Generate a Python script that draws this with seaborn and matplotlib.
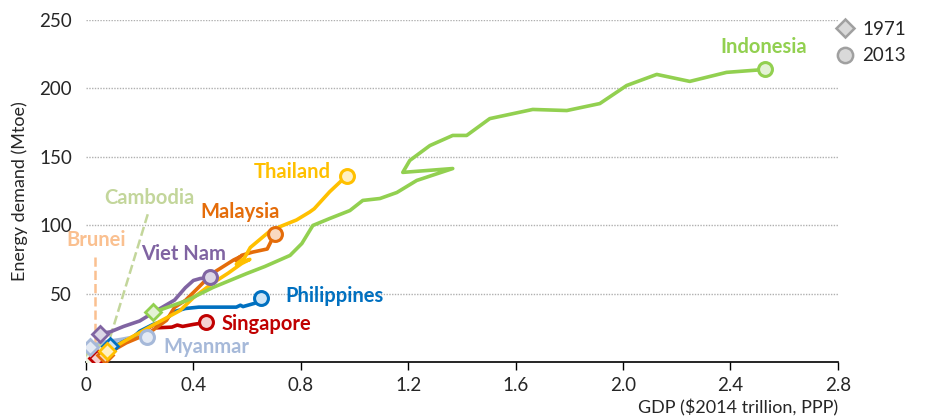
import numpy as np
import pandas as pd
import matplotlib
matplotlib.use("Agg")
import matplotlib.pyplot as plt
import seaborn as sns
from matplotlib.lines import Line2D

# GDP ($2014 trillion, PPP) and energy demand (Mtoe), 1971 -> 2013
indonesia_gdp = [0.249, 0.376, 0.473, 0.599, 0.666, 0.760, 0.804, 0.845, 0.908, 0.983, 1.031,
                 1.095, 1.158, 1.232, 1.366, 1.180, 1.206, 1.281, 1.366, 1.418, 1.504, 1.664,
                 1.791, 1.914, 2.014, 2.126, 2.249, 2.386, 2.528]
indonesia_ene = [36.2, 45.0, 54.5, 64.7, 69.8, 77.9, 86.6, 99.8, 104.9, 110.7, 118.1,
                 119.5, 123.9, 132.7, 141.4, 138.6, 147.3, 158.2, 165.6, 165.6, 177.9, 184.6,
                 183.8, 188.9, 202.1, 210.2, 205.1, 211.7, 213.8]

thailand_gdp = [0.08, 0.15, 0.25, 0.35, 0.40, 0.47, 0.53, 0.58, 0.61, 0.56, 0.59, 0.612,
                0.682, 0.722, 0.784, 0.833, 0.85, 0.908, 0.972]
thailand_ene = [8, 16, 27, 37.6, 47, 57.4, 65, 72, 75, 71.5, 76, 83.7,
                95.2, 98.9, 103.8, 109.6, 112, 124.5, 136.3]

malaysia_gdp = [0.07, 0.15, 0.23, 0.30, 0.33, 0.37, 0.42, 0.47, 0.50, 0.55, 0.575, 0.56,
                0.58, 0.62, 0.675, 0.704]
malaysia_ene = [5, 14, 20.6, 30.5, 40, 45, 54.7, 64.7, 68.4, 74.6, 77, 74,
                78, 80.3, 82.6, 93.9]

vietnam_gdp = [0.052, 0.09, 0.14, 0.20, 0.27, 0.33, 0.37, 0.40, 0.425, 0.462]
vietnam_ene = [20.8, 22, 26, 30, 38.4, 45.3, 54.3, 59.6, 61, 61.8]

philippines_gdp = [0.09, 0.12, 0.15, 0.17, 0.20, 0.25, 0.29, 0.33, 0.37, 0.42, 0.50, 0.56,
                   0.575, 0.585, 0.63, 0.652]
philippines_ene = [12, 13, 16, 17, 22.5, 27.5, 30, 36.9, 39.1, 40.1, 40.1, 40.1,
                   41.5, 40.5, 43, 47.1]

singapore_gdp = [0.04, 0.10, 0.18, 0.26, 0.265, 0.32, 0.34, 0.36, 0.40, 0.447]
singapore_ene = [3, 10, 19, 28, 25, 25.5, 27, 26, 27.5, 28.9]

myanmar_gdp = [0.015, 0.04, 0.08, 0.13, 0.17, 0.20, 0.226]
myanmar_ene = [11, 13, 15, 16.5, 18, 19, 18.1]

cambodia_gdp = [0.01, 0.03, 0.052]
cambodia_ene = [2, 4.5, 7.1]

brunei_gdp = [0.015, 0.03, 0.04]
brunei_ene = [1.5, 3.5, 4.8]

countries = ["Brunei", "Cambodia", "Singapore", "Myanmar", "Philippines", "Viet Nam",
             "Malaysia", "Thailand", "Indonesia"]
series = {
    "Indonesia": (indonesia_gdp, indonesia_ene),
    "Thailand": (thailand_gdp, thailand_ene),
    "Malaysia": (malaysia_gdp, malaysia_ene),
    "Viet Nam": (vietnam_gdp, vietnam_ene),
    "Philippines": (philippines_gdp, philippines_ene),
    "Singapore": (singapore_gdp, singapore_ene),
    "Myanmar": (myanmar_gdp, myanmar_ene),
    "Cambodia": (cambodia_gdp, cambodia_ene),
    "Brunei": (brunei_gdp, brunei_ene),
}
colors = {
    "Indonesia": "#92d050", "Thailand": "#ffc000", "Malaysia": "#e46c0a",
    "Viet Nam": "#8064a2", "Philippines": "#0070c0", "Singapore": "#c00000",
    "Myanmar": "#a6b9d9", "Cambodia": "#c3d69b", "Brunei": "#fac090",
}
faces = {
    "Indonesia": "#e4f2d6", "Thailand": "#fff0c2", "Malaysia": "#f9d9c0",
    "Viet Nam": "#dcd6e6", "Philippines": "#cfe5f6", "Singapore": "#f5d0d0",
    "Myanmar": "#e4eaf4", "Cambodia": "#edf3e3", "Brunei": "#fde8d6",
}

rows = []
for c in countries:
    gx, ey = series[c]
    for i, (g, e) in enumerate(zip(gx, ey)):
        rows.append({"country": c, "step": i, "gdp": g, "energy": e})
df = pd.DataFrame(rows)

sns.set_theme(style="white")
plt.rcParams["font.family"] = ["Lato", "DejaVu Sans"]

fig = plt.figure(figsize=(9.37, 4.16), dpi=100)
ax = fig.add_axes([0.0918, 0.1298, 0.8022, 0.8222])

sns.lineplot(data=df, x="gdp", y="energy", hue="country", palette=colors,
             hue_order=countries, sort=False, estimator=None, units="country",
             linewidth=2.6, legend=False, ax=ax)
for ln in ax.lines:
    ln.set_solid_joinstyle("round")
    ln.set_solid_capstyle("round")

for c in countries:
    gx, ey = series[c]
    ax.plot(gx[0], ey[0], marker="D", markersize=8, markerfacecolor=faces[c],
            markeredgecolor=colors[c], markeredgewidth=2, zorder=4)
    ax.plot(gx[-1], ey[-1], marker="o", markersize=10, markerfacecolor=faces[c],
            markeredgecolor=colors[c], markeredgewidth=2.2, zorder=4)

# labels
lbl = dict(fontsize=14.5, fontweight="bold")
ax.text(2.525, 230, "Indonesia", color=colors["Indonesia"], ha="center", va="center", **lbl)
ax.text(0.767, 139, "Thailand", color=colors["Thailand"], ha="center", va="center", **lbl)
ax.text(0.573, 110, "Malaysia", color=colors["Malaysia"], ha="center", va="center", **lbl)
ax.text(0.365, 79, "Viet Nam", color=colors["Viet Nam"], ha="center", va="center", **lbl)
ax.text(0.741, 48, "Philippines", color=colors["Philippines"], ha="left", va="center", **lbl)
ax.text(0.506, 28, "Singapore", color=colors["Singapore"], ha="left", va="center", **lbl)
ax.text(0.287, 11, "Myanmar", color=colors["Myanmar"], ha="left", va="center", **lbl)
ax.text(0.235, 120, "Cambodia", color=colors["Cambodia"], ha="center", va="center", **lbl)
ax.text(0.037, 89, "Brunei", color=colors["Brunei"], ha="center", va="center", **lbl)

# leader lines
ax.plot([0.23, 0.09], [108, 18], ls="--", color=colors["Cambodia"], lw=1.8, zorder=1)
ax.plot([0.035, 0.035], [77, 12], ls="--", color=colors["Brunei"], lw=1.8, zorder=1)

ax.set_xlim(0, 2.8)
ax.set_ylim(0, 250)
ax.set_xticks(np.arange(0, 2.81, 0.4))
ax.set_xticklabels(["0", "0.4", "0.8", "1.2", "1.6", "2.0", "2.4", "2.8"])
ax.set_yticks([50, 100, 150, 200, 250])
ax.yaxis.grid(True, color="#b0b0b0", linestyle=(0, (1, 1)), linewidth=1)
ax.set_axisbelow(True)
for s in ["top", "right", "left"]:
    ax.spines[s].set_visible(False)
ax.spines["bottom"].set_color("black")
ax.spines["bottom"].set_linewidth(1.2)
ax.tick_params(axis="x", bottom=True, direction="out", length=6, width=1, color="black",
               labelsize=13.5, pad=5)
ax.tick_params(axis="y", left=False, labelsize=13.5, pad=4)
ax.set_xlabel("GDP ($2014 trillion, PPP)", fontsize=13, ha="right", x=1.0)
ax.set_ylabel("Energy demand (Mtoe)", fontsize=13, labelpad=8)

handles = [
    Line2D([], [], marker="D", ls="none", markersize=9, markerfacecolor="#d9d9d9",
           markeredgecolor="#a0a0a0", markeredgewidth=1.8, label="1971"),
    Line2D([], [], marker="o", ls="none", markersize=11, markerfacecolor="#d9d9d9",
           markeredgecolor="#a0a0a0", markeredgewidth=1.8, label="2013"),
]
fig.legend(handles=handles, loc="upper left", bbox_to_anchor=(0.872, 0.99), frameon=False,
           fontsize=13.5, handletextpad=0.3, labelspacing=0.5, handlelength=1.2)

fig.savefig("out.png", dpi=100)
